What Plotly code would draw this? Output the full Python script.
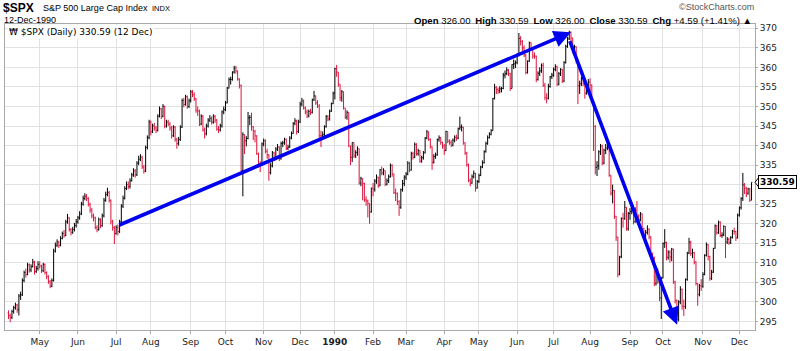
import pandas as pd
import plotly.graph_objects as go

# ------------------------------------------------------------------ data
# $SPX daily bars (open of each bar = previous close)
first_open = 297.2

c_1989_04 = [296.5, 296.0, 297.5, 298.5, 299.2, 298.0, 301.5, 301.8, 305.5, 307.5, 307.0, 309.5, 308.2, 309.0, 310.2, 307.8, 308.5, 309.6]
h_1989_04 = [297.8, 297.0, 298.0, 299.0, 299.8, 299.5, 302.0, 302.6, 306.0, 308.0, 308.5, 310.0, 309.8, 309.6, 311.0, 310.5, 309.2, 310.4]
l_1989_04 = [295.6, 294.8, 295.6, 297.0, 298.0, 297.2, 296.5, 300.5, 301.5, 305.0, 306.2, 306.8, 307.5, 307.6, 308.8, 307.0, 307.4, 308.0]

c_1989_05 = [309.2, 308.0, 309.6, 307.5, 306.5, 305.2, 304.0, 305.5, 313.0, 314.5, 315.3, 314.5, 316.2, 317.5, 317.0, 320.5, 321.5, 318.5, 317.8, 318.5, 319.5, 320.5]
h_1989_05 = [310.4, 309.5, 310.0, 309.8, 307.8, 306.8, 305.6, 306.0, 313.6, 315.2, 316.0, 315.6, 316.8, 318.0, 318.4, 321.0, 322.5, 321.6, 318.9, 319.2, 320.2, 321.2]
l_1989_05 = [308.5, 307.4, 307.6, 307.0, 305.8, 304.6, 303.5, 303.8, 305.2, 312.6, 314.0, 313.8, 314.2, 316.0, 316.4, 316.8, 320.0, 318.0, 317.0, 317.4, 318.0, 319.0]

c_1989_06 = [321.5, 322.5, 325.0, 326.5, 327.0, 326.5, 325.0, 323.5, 322.0, 321.5, 319.0, 318.5, 321.0, 319.5, 322.0, 326.0, 327.5, 328.0, 326.0, 320.5, 319.0, 317.5]
h_1989_06 = [322.0, 323.2, 325.6, 327.2, 327.8, 327.6, 326.8, 325.4, 324.0, 322.6, 321.8, 319.6, 321.6, 321.4, 322.6, 326.6, 328.2, 329.2, 328.4, 326.2, 321.0, 319.4]
l_1989_06 = [320.0, 321.0, 322.2, 324.6, 326.0, 325.8, 324.4, 322.8, 321.4, 320.6, 318.6, 317.8, 318.2, 318.8, 319.2, 321.6, 325.6, 327.0, 325.4, 319.8, 318.2, 314.8]

c_1989_07 = [319.0, 318.0, 320.5, 324.5, 326.5, 329.0, 330.0, 329.5, 331.0, 332.5, 333.5, 332.5, 335.5, 336.5, 337.0, 334.5, 333.5, 339.5, 342.0, 346.0]
h_1989_07 = [319.6, 319.8, 321.0, 325.0, 327.2, 329.6, 330.8, 330.8, 331.6, 333.0, 334.2, 334.0, 336.0, 337.4, 337.8, 337.4, 335.0, 340.0, 342.6, 346.6]
l_1989_07 = [317.2, 317.0, 317.6, 320.2, 324.0, 326.2, 328.6, 328.8, 329.0, 330.8, 332.0, 331.8, 332.2, 335.0, 336.0, 334.0, 332.8, 333.2, 339.0, 341.6]

c_1989_08 = [343.5, 345.0, 344.5, 343.9, 347.5, 349.4, 347.5, 350.0, 345.0, 346.0, 345.5, 344.5, 342.5, 344.7, 341.5, 340.5, 341.5, 344.7, 351.5, 350.5, 352.5, 350.0, 351.5]
h_1989_08 = [346.4, 345.6, 345.8, 345.0, 348.0, 350.0, 349.6, 350.6, 350.2, 346.6, 346.6, 346.0, 345.0, 345.2, 345.0, 342.0, 342.2, 345.2, 352.0, 352.2, 353.0, 352.8, 352.0]
l_1989_08 = [342.6, 343.2, 343.8, 343.2, 343.6, 347.2, 346.8, 347.2, 344.4, 344.6, 345.0, 343.8, 341.8, 342.2, 341.0, 339.2, 340.0, 341.2, 344.5, 349.8, 350.2, 349.4, 349.6]

c_1989_09 = [353.7, 353.0, 352.0, 349.0, 348.8, 345.5, 347.5, 344.0, 343.0, 345.0, 346.5, 347.0, 346.0, 347.5, 346.5, 344.2, 344.0, 345.0, 348.6, 349.2]
h_1989_09 = [354.2, 354.2, 353.6, 352.2, 350.0, 349.2, 348.0, 347.8, 344.6, 345.6, 347.0, 347.8, 347.4, 348.0, 347.8, 346.8, 345.0, 345.6, 349.0, 350.0]
l_1989_09 = [351.0, 352.4, 351.4, 348.4, 347.6, 345.0, 345.2, 343.6, 341.8, 342.6, 344.6, 346.0, 345.4, 345.6, 345.8, 343.8, 343.2, 343.6, 344.6, 348.0]

c_1989_10 = [350.9, 354.7, 356.9, 356.9, 358.8, 359.8, 359.1, 357.0, 355.4, 333.6, 342.8, 341.2, 341.8, 347.1, 347.2, 344.8, 343.7, 342.5, 337.9, 335.1, 335.1, 340.4]
h_1989_10 = [351.4, 355.0, 357.4, 357.6, 359.0, 360.4, 360.4, 359.2, 357.2, 355.6, 343.4, 342.8, 342.4, 348.6, 347.8, 348.4, 345.0, 344.0, 342.6, 338.2, 336.0, 340.8]
l_1989_10 = [348.8, 350.8, 354.6, 355.6, 356.6, 358.4, 358.4, 356.6, 354.6, 333.4, 327.0, 337.8, 339.8, 341.6, 345.2, 343.8, 341.4, 340.8, 337.6, 334.4, 333.2, 334.8]

c_1989_11 = [341.2, 338.5, 337.6, 333.1, 334.8, 338.1, 336.6, 339.1, 339.6, 336.6, 340.5, 340.7, 341.6, 339.3, 339.6, 341.9, 343.1, 345.6, 346.3, 343.6, 346.0]
h_1989_11 = [341.8, 341.6, 339.2, 337.8, 335.6, 338.6, 338.4, 339.6, 340.4, 339.8, 341.0, 341.2, 342.0, 341.8, 340.2, 342.4, 343.6, 346.0, 347.0, 346.6, 346.6]
l_1989_11 = [339.8, 338.0, 336.6, 331.0, 332.6, 334.4, 336.0, 336.2, 338.6, 336.0, 336.4, 339.6, 340.2, 338.8, 338.8, 339.4, 341.6, 343.0, 345.2, 342.8, 343.2]

c_1989_12 = [350.6, 351.4, 349.6, 348.6, 347.6, 348.7, 348.5, 351.7, 352.7, 350.9, 350.1, 342.5, 342.5, 342.8, 344.8, 347.4, 346.8, 348.8, 350.7, 353.4]
h_1989_12 = [351.2, 352.2, 351.8, 350.0, 349.2, 349.2, 349.4, 352.0, 354.0, 352.8, 351.6, 350.6, 343.8, 343.6, 345.2, 347.8, 347.8, 349.2, 351.0, 353.8]
l_1989_12 = [345.8, 350.0, 349.2, 348.0, 347.0, 347.2, 347.8, 348.2, 351.4, 350.4, 349.6, 342.0, 339.6, 341.4, 342.4, 344.6, 346.2, 346.4, 348.6, 350.6]

c_1990_01 = [359.7, 358.8, 355.7, 352.2, 353.8, 349.6, 347.3, 348.5, 339.9, 337.0, 340.8, 337.4, 338.2, 339.2, 330.4, 331.6, 330.3, 326.1, 325.8, 325.2, 323.0, 329.1]
h_1990_01 = [359.9, 360.6, 358.8, 355.7, 354.2, 353.8, 349.6, 349.0, 348.5, 340.0, 340.8, 340.8, 338.8, 339.8, 339.2, 332.0, 331.6, 330.5, 327.0, 326.2, 325.2, 329.2]
l_1990_01 = [351.8, 357.6, 355.0, 351.4, 351.2, 349.2, 346.8, 346.6, 339.6, 335.0, 335.8, 336.8, 336.8, 337.4, 330.0, 329.6, 326.0, 325.6, 324.6, 321.6, 320.0, 322.8]

c_1990_02 = [328.8, 330.9, 331.9, 329.7, 333.8, 333.0, 333.6, 330.1, 331.0, 332.0, 334.9, 332.7, 328.0, 327.7, 325.7, 324.2, 328.7, 330.3, 331.9]
h_1990_02 = [330.4, 331.4, 332.6, 332.0, 334.0, 334.6, 334.2, 333.6, 331.6, 332.6, 335.4, 335.2, 332.8, 329.0, 328.0, 326.0, 329.0, 331.2, 332.4]
l_1990_02 = [327.0, 328.2, 330.2, 329.2, 329.6, 332.4, 332.4, 329.6, 329.8, 330.4, 331.8, 332.0, 327.6, 325.8, 324.8, 322.0, 323.8, 328.2, 329.6]

c_1990_03 = [332.7, 335.5, 333.7, 337.9, 337.0, 340.3, 337.9, 338.7, 336.0, 336.9, 338.1, 341.9, 343.5, 341.6, 339.7, 335.7, 337.2, 337.6, 341.5, 342.0, 340.8, 339.9]
h_1990_03 = [333.2, 336.0, 335.8, 338.4, 338.4, 340.8, 340.6, 339.2, 338.8, 337.4, 338.6, 342.2, 344.0, 343.6, 341.8, 339.8, 337.8, 338.2, 341.8, 342.6, 342.2, 341.0]
l_1990_03 = [331.2, 332.4, 333.2, 333.6, 336.4, 336.8, 337.4, 337.4, 335.6, 335.6, 336.4, 338.0, 341.6, 341.2, 339.2, 333.8, 335.4, 336.6, 337.4, 341.0, 340.2, 339.2]

c_1990_04 = [338.7, 343.6, 341.1, 340.7, 340.1, 341.4, 342.1, 341.9, 344.3, 344.7, 344.7, 340.7, 338.1, 335.1, 331.1, 330.4, 332.0, 332.9, 329.1, 330.8]
h_1990_04 = [340.4, 343.8, 343.6, 341.6, 341.4, 341.8, 342.6, 342.8, 344.6, 347.4, 345.4, 344.8, 340.8, 338.4, 335.4, 331.6, 332.6, 333.6, 333.0, 331.2]
l_1990_04 = [337.6, 338.6, 340.6, 340.2, 339.6, 339.8, 340.8, 341.2, 341.6, 344.0, 343.6, 340.2, 337.6, 334.6, 330.6, 329.6, 330.2, 331.6, 328.2, 329.0]

c_1990_05 = [332.3, 334.5, 335.6, 338.4, 340.5, 342.0, 342.9, 343.8, 352.0, 354.8, 354.3, 354.0, 354.5, 354.6, 358.0, 358.4, 359.3, 358.4, 354.6, 360.7, 360.9, 361.2]
h_1990_05 = [332.8, 334.8, 336.2, 338.8, 341.0, 342.6, 343.4, 344.2, 352.2, 355.8, 355.2, 354.8, 355.2, 355.0, 358.6, 359.2, 360.0, 359.6, 358.6, 360.8, 362.0, 361.8]
l_1990_05 = [330.4, 332.2, 334.2, 335.4, 338.2, 340.2, 341.8, 342.6, 343.8, 351.8, 353.2, 353.2, 353.4, 353.6, 354.4, 357.2, 358.0, 357.8, 354.0, 354.6, 359.6, 359.8]

c_1990_06 = [363.2, 367.4, 366.6, 365.0, 363.2, 358.7, 361.6, 366.3, 364.9, 362.9, 362.9, 356.9, 358.5, 359.1, 360.5, 355.4, 352.3, 352.1, 355.1, 357.6, 358.0]
h_1990_06 = [363.6, 368.8, 368.0, 367.0, 365.6, 363.4, 361.8, 366.6, 366.4, 365.0, 363.8, 363.0, 359.0, 360.0, 361.0, 361.2, 356.0, 353.4, 355.8, 357.8, 358.6]
l_1990_06 = [360.8, 362.8, 365.6, 364.2, 362.6, 358.2, 358.4, 361.4, 364.4, 362.2, 362.2, 356.2, 356.6, 357.8, 358.6, 355.0, 351.6, 350.8, 351.8, 354.8, 357.0]

c_1990_07 = [359.5, 360.2, 355.7, 358.4, 359.5, 356.5, 361.2, 365.4, 367.3, 369.0, 367.5, 364.2, 365.3, 361.6, 355.3, 355.8, 357.1, 355.9, 353.4, 355.6, 356.2]
h_1990_07 = [360.0, 360.8, 360.4, 358.8, 359.8, 359.6, 361.6, 365.8, 367.8, 369.4, 369.2, 367.6, 365.8, 365.4, 361.6, 356.6, 357.6, 357.6, 356.0, 356.0, 357.0]
l_1990_07 = [357.6, 359.0, 355.2, 355.4, 357.8, 356.0, 356.2, 361.0, 365.0, 367.0, 366.6, 363.6, 363.8, 361.0, 350.6, 353.2, 355.2, 355.2, 352.0, 353.0, 354.8]

c_1990_08 = [355.5, 351.5, 344.9, 334.4, 334.8, 338.4, 339.9, 335.5, 338.8, 339.4, 340.1, 332.4, 327.8, 328.5, 321.9, 316.6, 307.1, 311.5, 321.4, 321.3, 324.2, 318.7, 322.6]
h_1990_08 = [357.2, 355.6, 351.6, 345.2, 336.0, 338.8, 340.4, 340.2, 339.2, 340.4, 341.2, 340.4, 332.4, 330.0, 328.6, 322.0, 316.6, 311.8, 321.6, 322.8, 325.8, 324.2, 323.0]
l_1990_08 = [353.0, 351.0, 338.6, 332.6, 332.2, 333.8, 337.6, 335.0, 335.2, 337.8, 338.8, 332.0, 327.2, 325.2, 321.2, 315.6, 306.3, 306.8, 311.2, 319.0, 321.0, 318.2, 318.2]

c_1990_09 = [323.1, 324.4, 320.5, 323.4, 321.6, 321.0, 322.5, 318.7, 316.8, 317.8, 318.6, 316.6, 311.5, 311.3, 304.6, 308.3, 305.1, 301.0, 306.1]
h_1990_09 = [324.0, 325.4, 324.6, 324.2, 325.8, 322.4, 323.0, 322.6, 319.0, 318.4, 319.6, 318.8, 316.8, 312.6, 311.6, 308.8, 308.6, 305.4, 306.4]
l_1990_09 = [321.0, 322.4, 319.8, 320.2, 320.8, 320.2, 320.6, 318.2, 316.2, 316.2, 317.2, 316.0, 311.0, 309.6, 304.0, 304.2, 304.6, 300.2, 295.6]

c_1990_10 = [314.9, 315.2, 311.4, 312.7, 311.5, 313.5, 305.1, 300.4, 295.5, 300.0, 303.2, 298.9, 298.8, 305.7, 312.5, 315.3, 312.4, 312.6, 310.2, 304.7, 301.9, 304.1, 304.0]
h_1990_10 = [315.2, 318.6, 315.4, 313.2, 313.2, 313.8, 313.6, 305.4, 300.6, 300.4, 304.0, 303.4, 300.6, 306.0, 312.8, 316.4, 315.6, 313.6, 312.8, 310.4, 304.8, 304.6, 305.8]
l_1990_10 = [306.0, 313.8, 310.6, 310.8, 310.0, 310.4, 304.6, 299.6, 294.3, 295.0, 299.4, 298.0, 296.4, 298.2, 305.4, 312.2, 311.8, 311.2, 309.6, 304.2, 299.0, 301.4, 302.8]

c_1990_11 = [307.0, 311.9, 314.6, 311.6, 306.0, 307.6, 313.7, 319.5, 317.7, 320.4, 317.0, 317.1, 319.3, 315.3, 316.0, 315.1, 316.5, 318.1, 318.0, 316.4, 322.2]
h_1990_11 = [307.6, 312.2, 315.2, 314.8, 311.8, 308.2, 313.8, 319.8, 319.6, 320.8, 320.6, 317.8, 319.6, 319.4, 316.6, 316.4, 316.8, 318.4, 319.0, 318.2, 322.6]
l_1990_11 = [303.6, 306.8, 311.6, 310.6, 305.4, 305.6, 307.4, 313.6, 317.2, 317.4, 316.6, 316.4, 316.8, 311.2, 314.8, 314.6, 314.8, 316.2, 317.2, 315.6, 316.2]

c_1990_12 = [324.1, 326.4, 329.9, 329.1, 327.8, 328.9, 326.0, 330.59]
h_1990_12 = [324.4, 326.8, 333.0, 330.4, 329.4, 329.2, 329.2, 330.59]
l_1990_12 = [321.8, 323.6, 325.8, 327.6, 326.8, 327.4, 325.6, 326.0]

MONTHS = [
    ("1989-04", c_1989_04, h_1989_04, l_1989_04),
    ("1989-05", c_1989_05, h_1989_05, l_1989_05),
    ("1989-06", c_1989_06, h_1989_06, l_1989_06),
    ("1989-07", c_1989_07, h_1989_07, l_1989_07),
    ("1989-08", c_1989_08, h_1989_08, l_1989_08),
    ("1989-09", c_1989_09, h_1989_09, l_1989_09),
    ("1989-10", c_1989_10, h_1989_10, l_1989_10),
    ("1989-11", c_1989_11, h_1989_11, l_1989_11),
    ("1989-12", c_1989_12, h_1989_12, l_1989_12),
    ("1990-01", c_1990_01, h_1990_01, l_1990_01),
    ("1990-02", c_1990_02, h_1990_02, l_1990_02),
    ("1990-03", c_1990_03, h_1990_03, l_1990_03),
    ("1990-04", c_1990_04, h_1990_04, l_1990_04),
    ("1990-05", c_1990_05, h_1990_05, l_1990_05),
    ("1990-06", c_1990_06, h_1990_06, l_1990_06),
    ("1990-07", c_1990_07, h_1990_07, l_1990_07),
    ("1990-08", c_1990_08, h_1990_08, l_1990_08),
    ("1990-09", c_1990_09, h_1990_09, l_1990_09),
    ("1990-10", c_1990_10, h_1990_10, l_1990_10),
    ("1990-11", c_1990_11, h_1990_11, l_1990_11),
    ("1990-12", c_1990_12, h_1990_12, l_1990_12),
]

START_DATE, END_DATE = "1989-04-05", "1990-12-12"
HOLIDAYS = ["1989-05-29", "1989-07-04", "1989-09-04", "1989-11-23", "1989-12-25",
            "1990-01-01", "1990-02-19", "1990-04-13", "1990-05-28", "1990-07-04",
            "1990-09-03", "1990-11-22", "1990-12-25"]

# trend arrows drawn on the chart: (date, price) of tail and tip
up_trend = [("1989-07-05", 319.5), ("1990-07-17", 369.0)]
down_trend = [("1990-07-16", 367.1), ("1990-10-11", 294.2)]

# price-axis labels (the 330 label is hidden under the last-price tag)
y_ticks = list(range(295, 371, 5))

# ------------------------------------------------------------------ build series
dates, close, high, low, month_start = [], [], [], [], []
for ym, c, h, l in MONTHS:
    m0 = pd.Timestamp(ym + "-01")
    start = max(m0, pd.Timestamp(START_DATE))
    end = min(m0 + pd.offsets.MonthEnd(0), pd.Timestamp(END_DATE))
    days = [d for d in pd.bdate_range(start, end) if d.strftime("%Y-%m-%d") not in HOLIDAYS]
    assert len(days) == len(c) == len(h) == len(l), (ym, len(days), len(c), len(h), len(l))
    month_start.append((ym, len(close)))
    dates += days
    close += c
    high += h
    low += l

opens = [first_open] + close[:-1]
idx = list(range(len(close)))
date_pos = {d.strftime("%Y-%m-%d"): i for i, d in enumerate(dates)}

MON = ["Jan", "Feb", "Mar", "Apr", "May", "Jun", "Jul", "Aug", "Sep", "Oct", "Nov", "Dec"]
tick_vals, tick_text = [], []
for ym, i0 in month_start[1:]:
    y, m = int(ym[:4]), int(ym[5:])
    tick_vals.append(i0)
    tick_text.append("<b>%d</b>" % y if m == 1 else MON[m - 1])

last_c, prev_c = close[-1], close[-2]
y_text = ["" if abs(v - last_c) < 2.5 else str(v) for v in y_ticks]

# ------------------------------------------------------------------ figure
PL, PR, PT, PB = 4, 755, 24, 337   # plot area in pixels
W, H = 800, 351


def px(x):
    return (x - PL) / (PR - PL)


def py(y):
    return (PB - y) / (PB - PT)


RED = "#dc143c"
fig = go.Figure()
fig.add_trace(go.Ohlc(
    x=idx, open=opens, high=high, low=low, close=close,
    increasing=dict(line=dict(color="#000000", width=1)),
    decreasing=dict(line=dict(color=RED, width=1)),
    tickwidth=0.45, hoverinfo="skip", showlegend=False,
))

annotations = []
for tail, tip in (up_trend, down_trend):
    annotations.append(dict(
        x=date_pos[tip[0]], y=tip[1], ax=date_pos[tail[0]], ay=tail[1],
        xref="x", yref="y", axref="x", ayref="y", text="", showarrow=True,
        arrowhead=2, arrowsize=0.95, arrowwidth=3.6, arrowcolor="#0000f0", standoff=0,
    ))

chg = last_c - prev_c
last_day = dates[-1]

SANS = "Liberation Sans, Arial, sans-serif"
VERD = "DejaVu Sans, Verdana, sans-serif"


def txt(x, y, s, size, anchor="left", family=SANS, color="#000", **kw):
    d = dict(x=px(x), y=py(y), xref="paper", yref="paper", text=s, showarrow=False,
             xanchor=anchor, yanchor="middle", font=dict(family=family, size=size, color=color))
    d.update(kw)
    annotations.append(d)


txt(0, 8, "<b>$SPX</b>", 12)
txt(40, 8, "S&P 500 Large Cap Index", 9)
txt(149, 8, "INDX", 7.5)
txt(1, 20, last_day.strftime("%d-%b-%Y"), 9)
txt(756, 7, "©StockCharts.com", 9, anchor="right", color="#555")
txt(754, 20,
    "<b>Open</b> %.2f\u2002<b>High</b> %.2f\u2002<b>Low</b> %.2f\u2002<b>Close</b> %.2f\u2002"
    "<b>Chg</b> %+.2f (%+.2f%%) \u25b2" % (opens[-1], high[-1], low[-1], last_c, chg, chg / prev_c * 100),
    9.6, anchor="right")
txt(6, 32, "\u20a9 $SPX (Daily) %.2f (%d %s)" % (last_c, last_day.day, last_day.strftime("%b")), 9,
    family=VERD, bgcolor="white")

# last-price tag on the right axis
annotations.append(dict(
    x=1, y=last_c, xref="paper", yref="y", text="<b>%.2f</b>" % last_c, showarrow=False,
    xanchor="left", yanchor="middle", xshift=3, bgcolor="white", bordercolor="#000",
    borderwidth=1, borderpad=1, font=dict(family=VERD, size=9, color="#000"),
))

tag_w = 4 / (PR - PL)
shapes = [dict(
    type="path", xref="paper", yref="y",
    path="M 1,%f L %f,%f L %f,%f Z" % (last_c, 1 + tag_w, last_c + 1.3, 1 + tag_w, last_c - 1.3),
    line=dict(color="#000", width=1), fillcolor="white",
)]

GRID = "#e2e2e2"
fig.update_layout(
    width=W, height=H, margin=dict(l=PL, r=W - PR, t=PT, b=H - PB),
    paper_bgcolor="white", plot_bgcolor="white", showlegend=False,
    annotations=annotations, shapes=shapes,
    xaxis=dict(
        range=[-2, len(idx) + 1], tickmode="array", tickvals=tick_vals, ticktext=tick_text,
        showgrid=True, gridcolor=GRID, gridwidth=1, zeroline=False,
        showline=True, mirror=True, linecolor="#a8a8a8", linewidth=1,
        ticks="outside", ticklen=3, tickcolor="#a8a8a8",
        tickfont=dict(family=VERD, size=9, color="#222"),
        rangeslider=dict(visible=False), fixedrange=True,
    ),
    yaxis=dict(
        side="right", range=[292.8, 371.1], tickmode="array", tickvals=y_ticks, ticktext=y_text,
        showgrid=True, gridcolor=GRID, gridwidth=1, zeroline=False,
        showline=True, mirror=True, linecolor="#a8a8a8", linewidth=1,
        ticks="outside", ticklen=2, tickcolor="#a8a8a8",
        tickfont=dict(family=VERD, size=9, color="#222"), fixedrange=True,
    ),
)

fig.write_html("out.html")
